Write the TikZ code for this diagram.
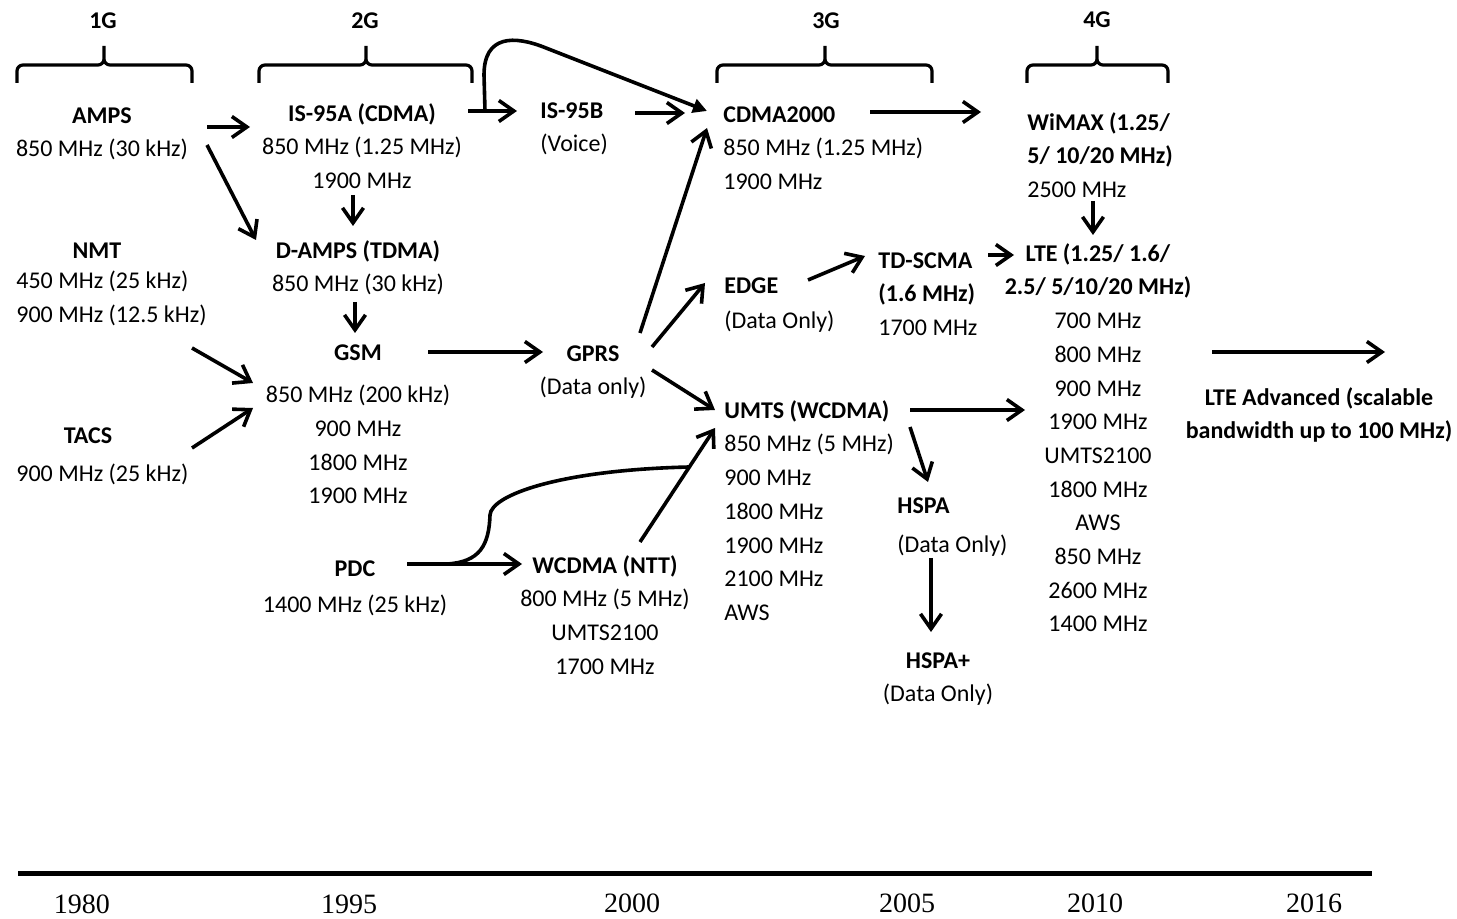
\documentclass[tikz,border=0pt]{standalone}
\usepackage{fontspec}
\setmainfont{Carlito}
\newfontfamily\yearfont{Liberation Serif}
\usetikzlibrary{arrows.meta,calc}

% generation brace: left x, tip x, right x
\newcommand{\genbrace}[3]{%
  \draw[brace, rounded corners=3pt] (#1,83) -- (#1,65) -- (#2,65) -- (#2,46)
    (#2,46) -- (#2,65) -- (#3,65) -- (#3,83);}

\begin{document}
\begin{tikzpicture}[x=0.5pt, y=-0.5pt,
      every node/.style={inner sep=0pt, font=\fontsize{12}{16.85}\selectfont},
      sys/.style={align=center, anchor=north},
      sysl/.style={align=left, anchor=north west},
      head/.style={font=\fontsize{12}{16.85}\selectfont\bfseries},
      year/.style={font=\fontsize{14}{16}\selectfont\yearfont},
      link/.style={line width=1.8pt},
      arr/.style={link, -{Straight Barb[length=7.5pt,width=10.5pt]}},
      arrf/.style={link, -{Triangle[length=7pt,width=7pt]}},
      brace/.style={line width=1.6pt}
      ]
      \useasboundingbox (0,0) rectangle (1457,919);

      % generations
      \node[head] (g1) at (103,21) {1G};
      \node[head] (g2) at (365,21) {2G};
      \node[head] (g3) at (826,21) {3G};
      \node[head] (g4) at (1097,20) {4G};
      \genbrace{17}{104}{192}
      \genbrace{259}{366}{472}
      \genbrace{717}{825}{932}
      \genbrace{1027}{1097}{1168}

      % systems
      \node[sys] (amps) at (102,107) {\textbf{AMPS}\\850 MHz (30 kHz)};
      \node[head] (nmt) at (97,251) {NMT};
      \node[sysl] (nmtf) at (16,271) {450 MHz (25 kHz)\\900 MHz (12.5 kHz)};
      \node[head] (tacs) at (88,436) {TACS};
      \node[sysl] (tacsf) at (16,464) {900 MHz (25 kHz)};
      \node[sys] (is95a) at (362,103) {\textbf{IS-95A (CDMA)}\\850 MHz (1.25 MHz)\\1900 MHz};
      \node[sys] (damps) at (358,240) {\textbf{D-AMPS (TDMA)}\\850 MHz (30 kHz)};
      \node[sys] (gsm) at (358,344) {\textbf{GSM}\\[4.5pt]850 MHz (200 kHz)\\900 MHz\\1800 MHz\\1900 MHz};
      \node[sys] (pdc) at (355,560) {\textbf{PDC}\\[1.5pt]1400 MHz (25 kHz)};
      \node[sysl] (is95b) at (540,102) {\textbf{IS-95B}\\(Voice)};
      \node[sys] (gprs) at (593,345) {\textbf{GPRS}\\(Data only)};
      \node[sys] (wcdma) at (605,555) {\textbf{WCDMA (NTT)}\\800 MHz (5 MHz)\\UMTS2100\\1700 MHz};
      \node[sysl] (cdma) at (723,106) {\textbf{CDMA2000}\\850 MHz (1.25 MHz)\\1900 MHz};
      \node[sysl] (edge) at (724,277) {\textbf{EDGE}\\[0.7pt](Data Only)};
      \node[sysl] (umts) at (724,400) {\textbf{UMTS (WCDMA)}\\850 MHz (5 MHz)\\900 MHz\\1800 MHz\\1900 MHz\\2100 MHz\\AWS};
      \node[sysl] (tdscma) at (878,252) {\textbf{TD-SCMA}\\\textbf{(1.6 MHz)}\\1700 MHz};
      \node[sysl] (hspa) at (897,497) {\textbf{HSPA}\\[3pt](Data Only)};
      \node[sys] (hspap) at (938,652) {\textbf{HSPA+}\\(Data Only)};
      \node[sysl] (wimax) at (1027,112) {\textbf{WiMAX (1.25/}\\\textbf{5/ 10/20 MHz)}\\2500 MHz};
      \node[sys] (lte) at (1098,243) {\textbf{LTE (1.25/ 1.6/}\\\textbf{2.5/ 5/10/20 MHz)}\\700 MHz\\800 MHz\\900 MHz\\1900 MHz\\UMTS2100\\1800 MHz\\AWS\\850 MHz\\2600 MHz\\1400 MHz};
      \node[sys] (ltea) at (1319,387) {\textbf{LTE Advanced (scalable}\\\textbf{bandwidth up to 100 MHz)}};

      % evolution
      \draw[arr] ($(amps.north)+(105,20)$) -- ($(is95a.north)+(-112,24)$);
      \draw[arr] ($(amps.north)+(105,38)$) -- ($(damps.north)+(-102,0)$);
      \draw[arr] ($(is95a.north)+(-9,92)$) -- ($(damps.north)+(-5,-14)$);
      \draw[arr] ($(damps.north)+(-3,62)$) -- ($(gsm.north)+(-3,-11)$);
      \draw[arr] ($(nmtf.north west)+(176,77)$) -- ($(gsm.north)+(-105,39)$);
      \draw[arr] ($(tacs)+(104,12)$) -- ($(gsm.north)+(-105,64)$);
      \draw[arr] ($(gsm.north)+(70,8)$) -- ($(gprs.north)+(-50,7)$);
      \draw[arr] ($(is95a.north)+(106,8)$) -- ($(is95b.north west)+(-23,9)$);
      \draw[arrf] ($(is95a.north)+(123,8)$) -- ++(-1,-36)
        .. controls +(0,-40) and +(-32,-13) .. ++(62,-27)
        -- ($(cdma.north west)+(-16,5)$);
      \draw[arr] ($(is95b.north west)+(95,11)$) -- ($(cdma.north west)+(-38,7)$);
      \draw[arr] ($(gprs.north)+(47,-12)$) -- ($(cdma.north west)+(-16,22)$);
      \draw[arr] ($(cdma.north west)+(147,6)$) -- ($(wimax.north west)+(-46,0)$);
      \draw[arr] ($(wimax.north west)+(66,89)$) -- ($(lte.north)+(-5,-8)$);
      \draw[arr] ($(gprs.north)+(59,2)$) -- ($(edge.north west)+(-19,6)$);
      \draw[arr] ($(edge.north west)+(84,3)$) -- ($(tdscma.north west)+(-13,4)$);
      \draw[arr] ($(tdscma.north west)+(110,3)$) -- ($(lte.north)+(-84,12)$);
      \draw[arr] ($(gprs.north)+(59,25)$) -- ($(umts.north west)+(-9,10)$);
      \draw[arr] ($(umts.north west)+(186,10)$) -- ($(lte.north)+(-73,167)$);
      \draw[arr] ($(umts.north west)+(186,27)$) -- ($(hspa.north west)+(31,-15)$);
      \draw[arr] ($(hspa.north west)+(34,61)$) -- ($(hspap.north)+(-7,-20)$);
      \draw[arr] ($(lte.north)+(114,109)$) -- ($(ltea.north)+(66,-35)$);
      \draw[arr] ($(pdc.north)+(52,4)$) -- ($(wcdma.north)+(-83,9)$);
      \draw[arr] ($(wcdma.north)+(35,-13)$) -- ($(umts.north west)+(-9,28)$);
      \draw[link] ($(pdc.north)+(92,4)$) .. controls +(33,-2) and +(-1,30) .. ++(43,-49)
        .. controls +(1,-20) and +(-129,3) .. ($(wcdma.north)+(84,-88)$);

      % timeline
      \draw[line width=2.8pt] (18,873.5) -- (1372,873.5);
      \node[year] (y1980) at (82,904) {1980};
      \node[year] (y1995) at (349,904) {1995};
      \node[year] (y2000) at (632,903) {2000};
      \node[year] (y2005) at (907,903) {2005};
      \node[year] (y2010) at (1095,903) {2010};
      \node[year] (y2016) at (1314,903) {2016};
\end{tikzpicture}
\end{document}
